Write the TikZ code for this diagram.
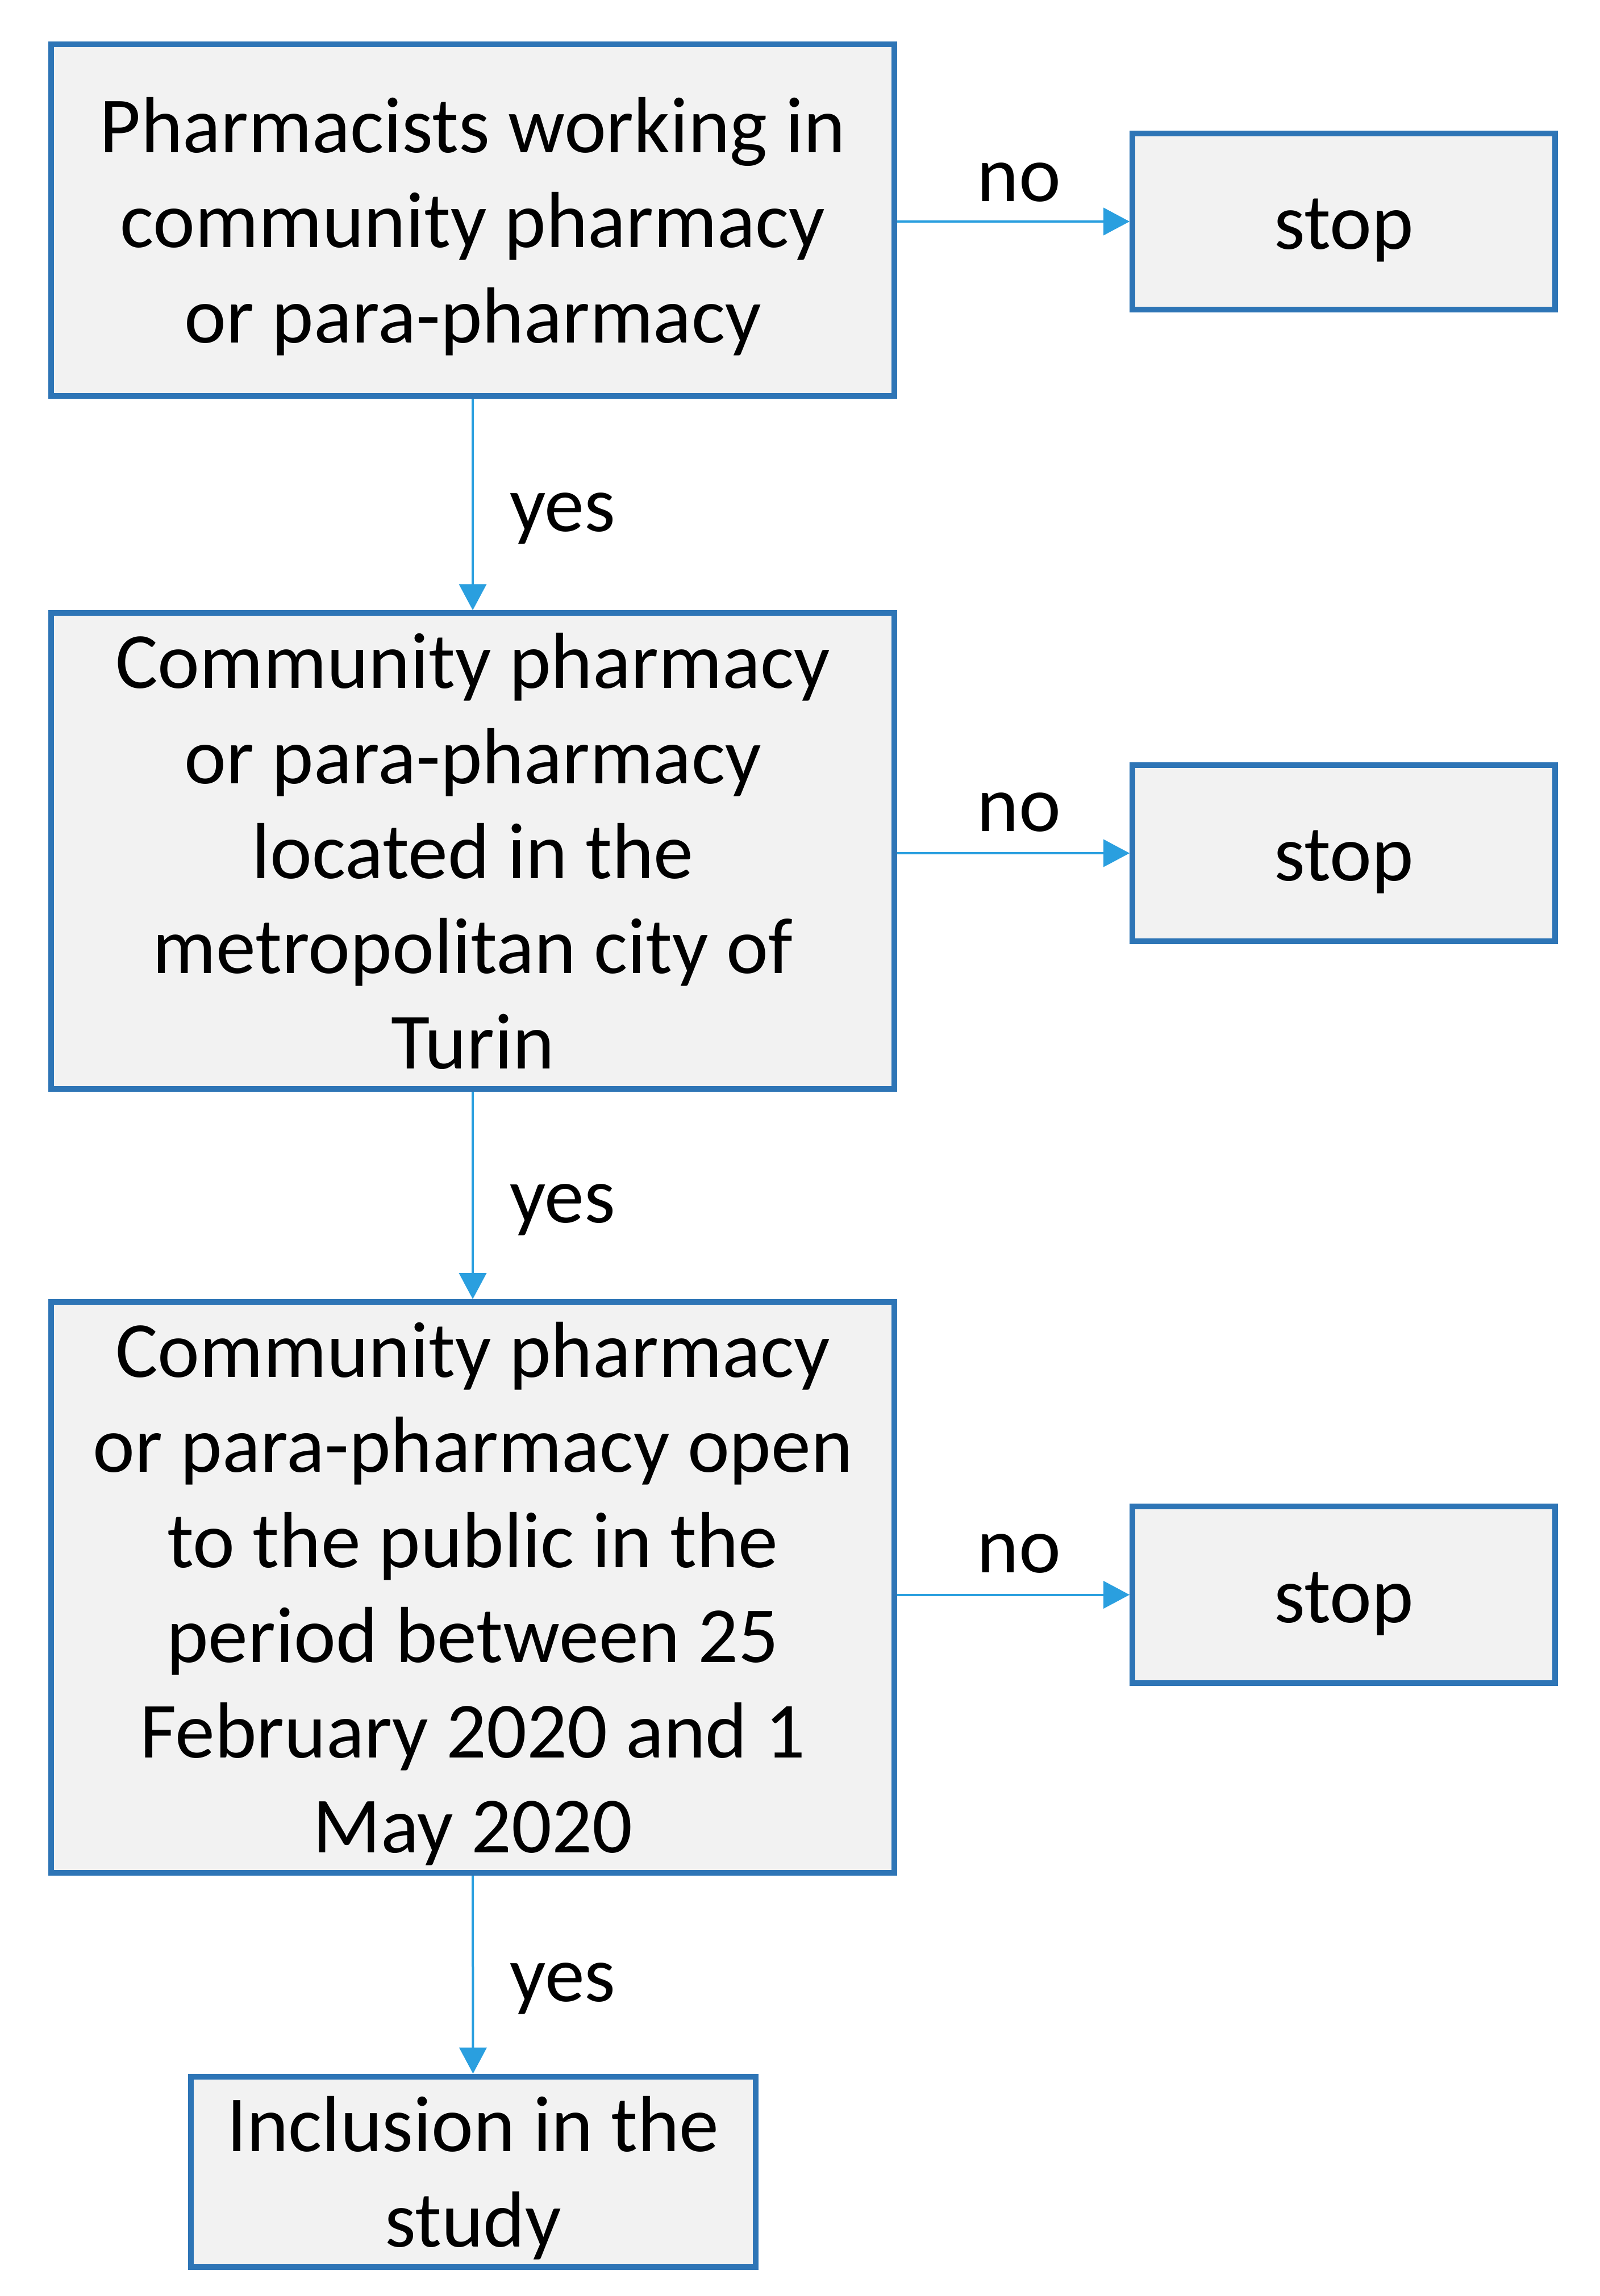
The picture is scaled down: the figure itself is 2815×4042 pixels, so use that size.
\documentclass[tikz,border=0pt]{standalone}
\usepackage{fontspec}
\setmainfont{Carlito}
\usetikzlibrary{arrows.meta}
\definecolor{boxline}{HTML}{2E75B6}
\definecolor{boxfill}{HTML}{F2F2F2}
\definecolor{arrowc}{HTML}{2A9FDF}
\newcommand{\boxtext}[1]{\raisebox{-1.5pt}[\height][\depth]{\begin{tabular}{@{}c@{}}#1\end{tabular}}}
\tikzset{
  boxnode/.style={draw=boxline, fill=boxfill, line width=1pt, inner sep=0pt,
    font=\fontsize{14}{16.75}\selectfont},
  arr/.style={draw=arrowc, line width=0.4pt, -{Triangle[length=4.6pt,width=4.8pt]}},
  lbl/.style={font=\fontsize{14}{16.75}\selectfont, inner sep=0pt}
}
\begin{document}
\begin{tikzpicture}[x=0.1pt,y=-0.1pt]
\useasboundingbox[fill=white] (0,0) rectangle (2815,4042);
\node[boxnode, minimum width=148.4pt, minimum height=61.9pt] (b1) at (832,387.5)
  {\boxtext{Pharmacists working in\\community pharmacy\\or para-pharmacy}};
\node[boxnode, minimum width=74.4pt, minimum height=31pt] (s1) at (2365,390) {\boxtext{stop}};
\node[boxnode, minimum width=148.4pt, minimum height=83.4pt] (b2) at (832,1498)
  {\boxtext{Community pharmacy\\or para-pharmacy\\located in the\\metropolitan city of\\Turin}};
\node[boxnode, minimum width=74.4pt, minimum height=31pt] (s2) at (2365,1502) {\boxtext{stop}};
\node[boxnode, minimum width=148.4pt, minimum height=98.5pt] (b3) at (832,2794.5)
  {\boxtext{Community pharmacy\\or para-pharmacy open\\to the public in the\\period between 25\\February 2020 and 1\\May 2020}};
\node[boxnode, minimum width=74.4pt, minimum height=31.1pt] (s3) at (2365,2807.5) {\boxtext{stop}};
\node[boxnode, minimum width=99.4pt, minimum height=31.2pt] (b4) at (832.5,3823)
  {\boxtext{Inclusion in the\\study}};
\draw[arr] (s1.west -| b1.east) -- node[lbl, above=3.3pt, xshift=1pt] {no} (s1.west);
\draw[arr] (s2.west -| b2.east) -- node[lbl, above=3.6pt, xshift=1pt] {no} (s2.west);
\draw[arr] (s3.west -| b3.east) -- node[lbl, above=3.6pt, xshift=1pt] {no} (s3.west);
\draw[arr] (b1.south) -- node[lbl, right=6.3pt, yshift=-2.5pt] {yes} (b2.north);
\draw[arr] (b2.south) -- node[lbl, right=6.3pt, yshift=-2.5pt] {yes} (b3.north);
\draw[arr] (b3.south) -- node[lbl, right=6.3pt, yshift=-2.5pt] {yes} (b4.north);
\end{tikzpicture}
\end{document}
